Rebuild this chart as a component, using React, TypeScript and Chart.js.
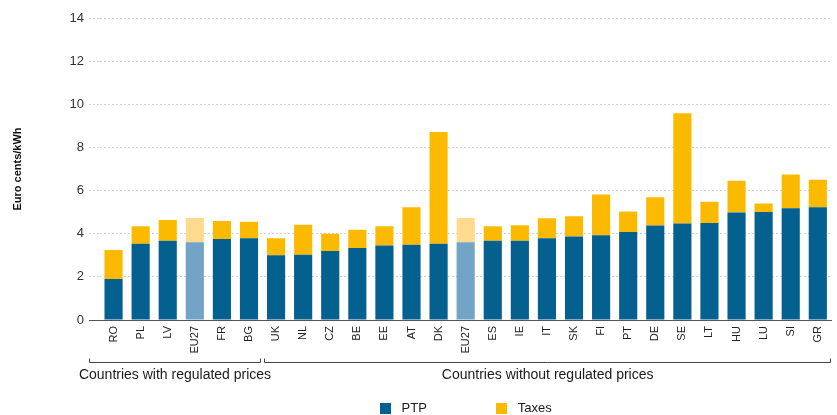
import React, { useEffect, useRef } from "react";
import { Chart, registerables } from "chart.js";

Chart.register(...registerables);

const categories = ["RO", "PL", "LV", "EU27", "FR", "BG", "UK", "NL", "CZ", "BE", "EE", "AT", "DK", "EU27", "ES", "IE", "IT", "SK", "FI", "PT", "DE", "SE", "LT", "HU", "LU", "SI", "GR"];
const ptpValues = [1.90, 3.54, 3.67, 3.60, 3.76, 3.79, 3.00, 3.03, 3.20, 3.34, 3.45, 3.49, 3.54, 3.60, 3.67, 3.67, 3.79, 3.87, 3.93, 4.08, 4.38, 4.47, 4.50, 4.98, 5.01, 5.18, 5.23];
const taxValues = [1.35, 0.81, 0.97, 1.13, 0.83, 0.76, 0.79, 1.39, 0.80, 0.84, 0.90, 1.74, 5.17, 1.13, 0.68, 0.72, 0.93, 0.94, 1.89, 0.95, 1.31, 5.12, 0.98, 1.47, 0.39, 1.56, 1.27];
const seriesNames = ["PTP", "Taxes"];
const groupNames = ["Countries with regulated prices", "Countries without regulated prices"];
const groupSizes = [6, 21];
const highlightCategory = "EU27";
const yTicks = [0, 2, 4, 6, 8, 10, 12, 14];
const yTitle = "Euro cents/kWh";

const FONT = "'Liberation Sans', Arial, sans-serif";
const PTP_COLOR = "#03608F";
const PTP_LIGHT = "#72A4C5";
const TAX_COLOR = "#FBBA00";
const TAX_LIGHT = "#FDDA8E";
const AXIS_COLOR = "#555555";
const GRID_COLOR = "#d2d2d2";
const TICK_EXT = 11;

const groupsAndLegend = {
  id: "groupsAndLegend",
  afterDraw(chart: any) {
    const { ctx, chartArea, scales } = chart;
    const x = scales.x;
    const base = chartArea.bottom;
    ctx.save();
    const yb = base + 42.5;
    let start = 0;
    groupSizes.forEach((size, g) => {
      const endIdx = start + size - 1;
      const left = g === 0
        ? chartArea.left - TICK_EXT
        : (x.getPixelForTick(start - 1) + x.getPixelForTick(start)) / 2 + 1.5;
      const right = endIdx === categories.length - 1
        ? chartArea.right
        : (x.getPixelForTick(endIdx) + x.getPixelForTick(endIdx + 1)) / 2 - 1.5;
      ctx.strokeStyle = "#444444";
      ctx.lineWidth = 1;
      ctx.beginPath();
      ctx.moveTo(Math.round(left) + 0.5, yb - 4);
      ctx.lineTo(Math.round(left) + 0.5, yb);
      ctx.lineTo(Math.round(right) - 0.5, yb);
      ctx.lineTo(Math.round(right) - 0.5, yb - 4);
      ctx.stroke();
      ctx.fillStyle = "#1a1a1a";
      ctx.font = `14px ${FONT}`;
      ctx.textAlign = "center";
      ctx.textBaseline = "middle";
      ctx.fillText(groupNames[g], (left + right) / 2, yb + 13);
      start += size;
    });
    const box = 11;
    const gap = 11;
    const spacing = 69;
    ctx.font = `13px ${FONT}`;
    const colors = [PTP_COLOR, TAX_COLOR];
    const widths = seriesNames.map((n) => box + gap + ctx.measureText(n).width);
    const total = widths.reduce((a, b) => a + b, 0) + spacing * (seriesNames.length - 1);
    let lx = (chartArea.left + chartArea.right) / 2 - total / 2;
    const ly = base + 88;
    seriesNames.forEach((n, i) => {
      ctx.fillStyle = colors[i];
      ctx.fillRect(Math.round(lx), Math.round(ly - box / 2), box, box);
      ctx.fillStyle = "#1a1a1a";
      ctx.textAlign = "left";
      ctx.textBaseline = "middle";
      ctx.fillText(n, lx + box + gap, ly);
      lx += widths[i] + spacing;
    });
    ctx.restore();
  },
};

export default function App() {
  const ref = useRef<HTMLCanvasElement | null>(null);
  useEffect(() => {
    document.body.style.margin = "0";
    if (!ref.current) return;
    const chart = new Chart(ref.current, {
      type: "bar",
      data: {
        labels: categories,
        datasets: [
          {
            label: seriesNames[0],
            data: ptpValues,
            backgroundColor: categories.map((c) => (c === highlightCategory ? PTP_LIGHT : PTP_COLOR)),
            borderWidth: 0,
            categoryPercentage: 1,
            barPercentage: 0.67,
          },
          {
            label: seriesNames[1],
            data: taxValues,
            backgroundColor: categories.map((c) => (c === highlightCategory ? TAX_LIGHT : TAX_COLOR)),
            borderWidth: 0,
            categoryPercentage: 1,
            barPercentage: 0.67,
          },
        ],
      },
      options: {
        responsive: false,
        animation: false,
        layout: { padding: { top: 18, right: 0, left: 0, bottom: 0 } },
        plugins: {
          legend: { display: false },
          tooltip: { enabled: false },
        },
        scales: {
          x: {
            stacked: true,
            grid: { display: false, drawTicks: false },
            border: { display: true, color: AXIS_COLOR, width: 1 },
            ticks: {
              minRotation: 90,
              maxRotation: 90,
              autoSkip: false,
              padding: 6,
              color: "#222222",
              font: { family: FONT, size: 11 },
            },
            afterFit: (scale: any) => {
              scale.height = 95;
            },
          },
          y: {
            stacked: true,
            min: 0,
            max: 14,
            afterBuildTicks: (scale: any) => {
              scale.ticks = yTicks.map((v) => ({ value: v }));
            },
            grid: {
              color: GRID_COLOR,
              lineWidth: 1,
              drawTicks: true,
              tickLength: TICK_EXT,
              tickColor: (c: any) => (c.tick && c.tick.value === 0 ? AXIS_COLOR : GRID_COLOR),
              tickBorderDash: (c: any) => (c.tick && c.tick.value === 0 ? [] : [2, 2]),
            },
            border: { display: false, dash: [2, 2] },
            ticks: {
              padding: 5,
              color: "#333333",
              font: { family: FONT, size: 13 },
            },
            title: {
              display: true,
              text: yTitle,
              color: "#111111",
              font: { family: FONT, size: 11, weight: "bold" },
              padding: { top: 11, bottom: 0 },
            },
            afterFit: (scale: any) => {
              scale.width = 100;
            },
          },
        },
      },
      plugins: [groupsAndLegend],
    });
    return () => chart.destroy();
  }, []);
  return (
    <div style={{ width: 837, height: 415, background: "#fff" }}>
      <canvas ref={ref} width={837} height={415} />
    </div>
  );
}
